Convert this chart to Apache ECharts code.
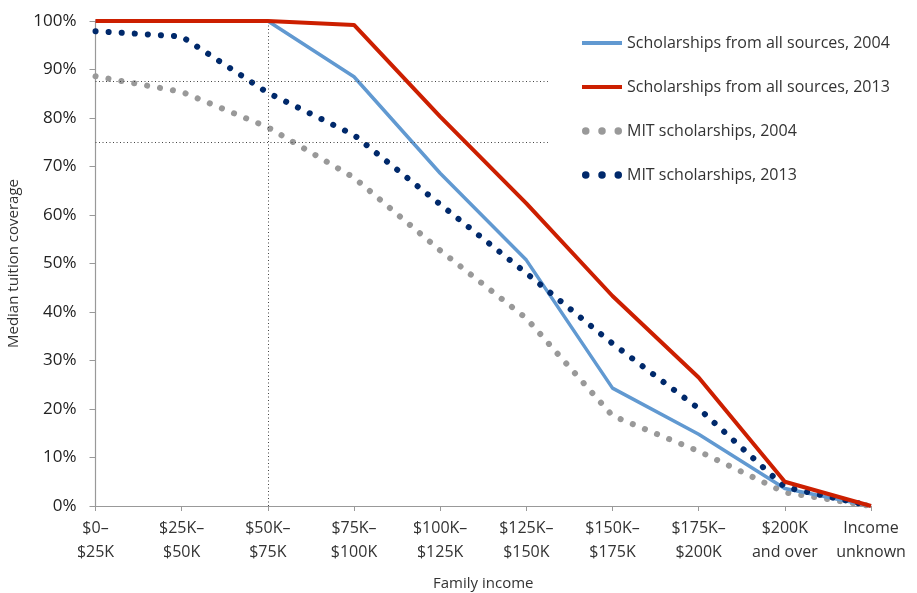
<!DOCTYPE html>
<html>
<head>
<meta charset="utf-8">
<script src="https://cdn.jsdelivr.net/npm/echarts@6/dist/echarts.min.js"></script>
<style>html,body{margin:0;padding:0;background:#fff}#c{width:917px;height:593px}</style>
</head>
<body>
<div id="c"></div>
<script>
var categories = ["$0–\n$25K","$25K–\n$50K","$50K–\n$75K","$75K–\n$100K","$100K–\n$125K","$125K–\n$150K","$150K–\n$175K","$175K–\n$200K","$200K\nand over","Income\nunknown"];
var yTicks = [0,10,20,30,40,50,60,70,80,90,100];
var allSources2004 = [100,100,100,88.5,68.6,50.7,24.3,14.8,3.6,0];
var allSources2013 = [100,100,100,99.2,80.3,62.4,43.3,26.5,5.0,0];
var mit2004 = [88.6,85.4,78.1,67.7,52.7,38.7,18.6,11.3,2.8,0];
var mit2013 = [97.9,96.8,85.2,76.5,62.2,48.0,33.5,20.1,3.9,0];
var refH = [87.5, 75];
var refV = 2;

function pts(a){return a.map(function(v,i){return [i,v];});}
var font = "'Open Sans', 'Noto Sans', sans-serif";
var chart = echarts.init(document.getElementById('c'));
var dot = function(color){return {color:color,width:6,type:[0.1,13],cap:'round'};};
var solidIcon = 'path://M0,0h40v4h-40z';
var c = 'a3,3 0 1,0 6,0a3,3 0 1,0 -6,0';
var dotIcon = 'path://M0,3'+c+'M13,3'+c+'M26,3'+c;
chart.setOption({
  animation:false,
  textStyle:{fontFamily:font},
  grid:{left:95.5,right:46,top:21,bottom:87,outerBoundsMode:'none',containLabel:false},
  legend:{
    orient:'vertical', left:577, top:30, itemGap:28, itemWidth:40, itemHeight:16,
    textStyle:{fontSize:16,color:'#333',fontFamily:font},
    data:[
      {name:'Scholarships from all sources, 2004',icon:solidIcon},
      {name:'Scholarships from all sources, 2013',icon:solidIcon},
      {name:'MIT scholarships, 2004',icon:dotIcon},
      {name:'MIT scholarships, 2013',icon:dotIcon}
    ]
  },
  xAxis:{
    type:'value', min:0, max:categories.length-1, interval:1,
    name:'Family income', nameLocation:'middle', nameGap:70,
    nameTextStyle:{fontSize:15,color:'#333'},
    axisLine:{show:true,lineStyle:{color:'#999',width:1.2}},
    axisTick:{show:true,length:5,lineStyle:{color:'#999'}},
    splitLine:{show:false},
    axisLabel:{fontSize:16,color:'#333',lineHeight:24,margin:10,formatter:function(v){return categories[v]||'';}}
  },
  yAxis:{
    type:'value', min:yTicks[0], max:yTicks[yTicks.length-1], interval:10,
    name:'Median tuition coverage', nameLocation:'middle', nameGap:74,
    nameTextStyle:{fontSize:15,color:'#333'},
    axisLine:{show:true,lineStyle:{color:'#999',width:1.2}},
    axisTick:{show:true,inside:false,length:6,lineStyle:{color:'#999'}},
    splitLine:{show:false},
    axisLabel:{fontSize:17,color:'#222',margin:19,formatter:'{value}%'}
  },
  series:[
    {name:'MIT scholarships, 2004',type:'line',data:pts(mit2004),symbol:'none',lineStyle:dot('#999999'),itemStyle:{color:'#999999'},z:2},
    {name:'Scholarships from all sources, 2004',type:'line',data:pts(allSources2004),symbol:'none',lineStyle:{color:'#6199d1',width:3.5},itemStyle:{color:'#6199d1'},z:3},
    {name:'MIT scholarships, 2013',type:'line',data:pts(mit2013),symbol:'none',lineStyle:dot('#00296b'),itemStyle:{color:'#00296b'},z:4},
    {name:'Scholarships from all sources, 2013',type:'line',data:pts(allSources2013),symbol:'none',lineStyle:{color:'#cc1f00',width:4},itemStyle:{color:'#cc1f00'},z:5,
      markLine:{silent:true,symbol:'none',label:{show:false},lineStyle:{color:'#444',width:1,type:[1,2.5]},
        data:[
          [{coord:[0,refH[0]]},{coord:[5.25,refH[0]]}],
          [{coord:[0,refH[1]]},{coord:[5.25,refH[1]]}],
          [{coord:[refV,0]},{coord:[refV,100]}]
        ]}}
  ]
});
</script>
</body>
</html>
